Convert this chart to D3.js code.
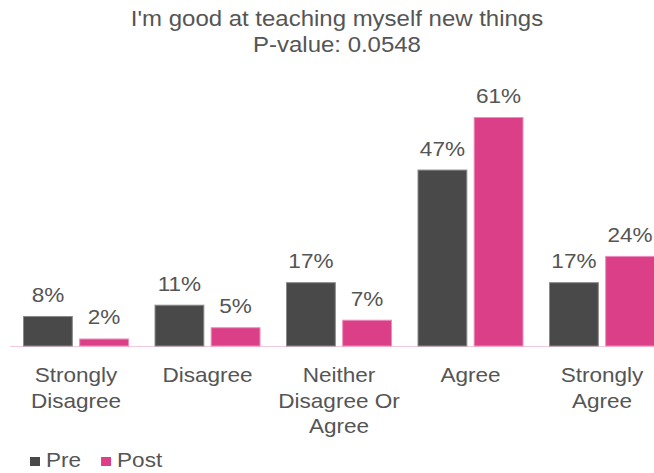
<!DOCTYPE html>
<html>
<head>
<meta charset="utf-8">
<script src="https://cdn.jsdelivr.net/npm/d3@7"></script>
<style>
  html, body { margin: 0; padding: 0; background: #fff; }
  svg { display: block; font-family: "Liberation Sans", Arial, Helvetica, sans-serif; }
</style>
</head>
<body>
<div id="chart"></div>
<script>
// Survey responses, share of respondents per answer
const categories = ["Strongly Disagree", "Disagree", "Neither Disagree Or Agree", "Agree", "Strongly Agree"];
const categoryLines = [["Strongly", "Disagree"], ["Disagree"], ["Neither", "Disagree Or", "Agree"], ["Agree"], ["Strongly", "Agree"]];
const seriesNames = ["Pre", "Post"];
const preValues = [8, 11, 17, 47, 17];
const postValues = [2, 5, 7, 61, 24];
const titleLines = ["I'm good at teaching myself new things", "P-value: 0.0548"];

const W = 654, H = 473;
const colors = { Pre: "#494949", Post: "#da3f88" };
const strokes = { Pre: "#8a8a8a", Post: "#ee8dbb" };
const textColor = "#555555";
const stretch = 1.1; // horizontal text stretch

const svg = d3.select("#chart").append("svg").attr("width", W).attr("height", H);

const baseY = 346;
const x0 = d3.scaleBand().domain(categories).range([10, 668]).paddingInner(0.194).paddingOuter(0.099);
const x1 = d3.scaleBand().domain(seriesNames).range([0, x0.bandwidth()]).paddingInner(0.113);
const y = d3.scaleLinear().domain([0, 70]).range([baseY, baseY - 70 * 3.754]);

const rows = categories.map((c, i) => ({ cat: c, Pre: preValues[i], Post: postValues[i] }));

function stretchedText(sel, x, yy) {
  return sel.attr("transform", `translate(${x},${yy}) scale(${stretch},1)`);
}

// Title
titleLines.forEach((t, i) => {
  stretchedText(svg.append("text"), 337, 26 + i * 26)
    .attr("text-anchor", "middle").attr("font-size", 21.8).attr("fill", textColor).text(t);
});

// Baseline
svg.append("line").attr("x1", 10).attr("x2", W).attr("y1", baseY + 0.5).attr("y2", baseY + 0.5)
  .attr("stroke", "#f2c9dd").attr("stroke-width", 1.2);

// Bars and value labels
const groups = svg.selectAll("g.grp").data(rows).join("g").attr("class", "grp")
  .attr("transform", d => `translate(${x0(d.cat)},0)`);

groups.selectAll("rect").data(d => seriesNames.map(s => ({ s, v: d[s] }))).join("rect")
  .attr("x", d => x1(d.s) + 0.5).attr("width", x1.bandwidth() - 1)
  .attr("y", d => y(d.v) + 0.5).attr("height", d => baseY - y(d.v) - 0.5)
  .attr("fill", d => colors[d.s]).attr("stroke", d => strokes[d.s]).attr("stroke-width", 1);

groups.each(function (d) {
  const g = d3.select(this);
  seriesNames.forEach(s => {
    stretchedText(g.append("text"), x1(s) + x1.bandwidth() / 2, y(d[s]) - 14)
      .attr("text-anchor", "middle").attr("font-size", 20.5).attr("fill", textColor).text(d[s] + "%");
  });
});

// Category labels
categories.forEach((c, i) => {
  const cx = x0(c) + x0.bandwidth() / 2;
  categoryLines[i].forEach((ln, j) => {
    stretchedText(svg.append("text"), cx, 382 + j * 25.5)
      .attr("text-anchor", "middle").attr("font-size", 20.5).attr("fill", textColor).text(ln);
  });
});

// Legend
const legend = svg.append("g");
let lx = 30;
seriesNames.forEach(s => {
  legend.append("rect").attr("x", lx).attr("y", 457).attr("width", 10).attr("height", 9).attr("fill", colors[s]);
  const t = stretchedText(legend.append("text"), lx + 16, 467)
    .attr("font-size", 20.5).attr("fill", textColor).text(s);
  lx += 16 + t.node().getComputedTextLength() * stretch + 20;
});
</script>
</body>
</html>
